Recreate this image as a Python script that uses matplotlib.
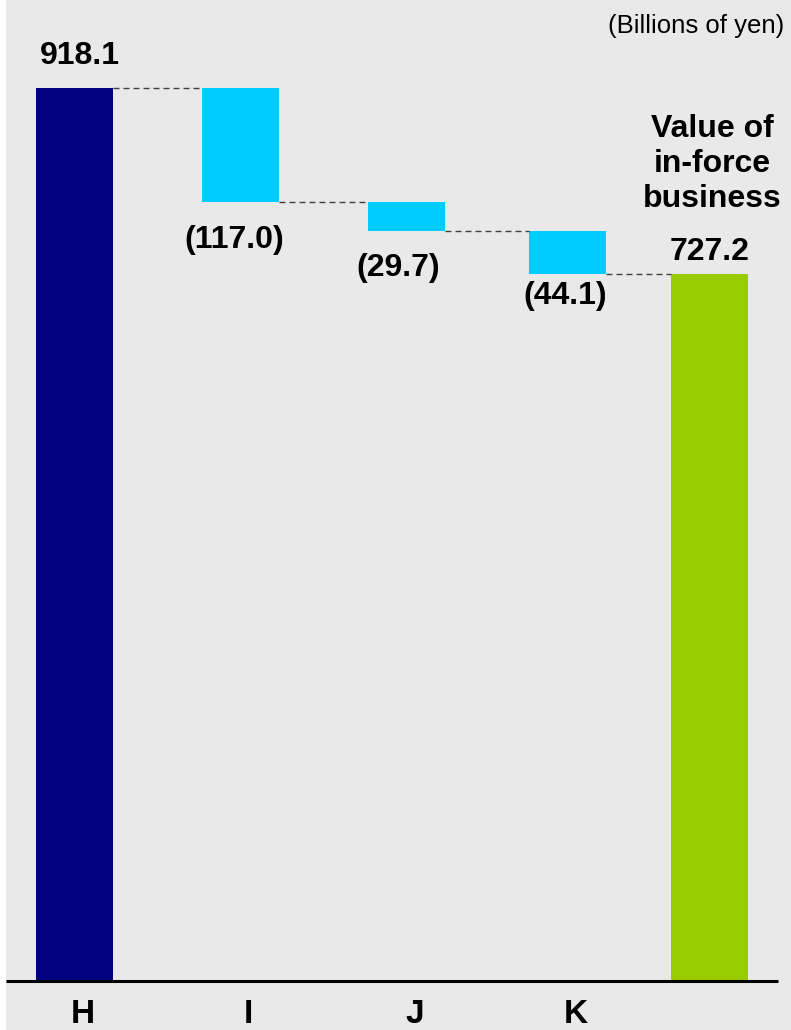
import matplotlib.pyplot as plt
from matplotlib.patches import Rectangle

# data (billions of yen)
categories = ["H", "I", "J", "K", ""]
start_value = 918.1
changes = [-117.0, -29.7, -44.1]
end_value = 727.2
change_labels = ["(117.0)", "(29.7)", "(44.1)"]
end_title = "Value of\nin-force\nbusiness"
unit_note = "(Billions of yen)"

# layout (pixel-based x axis)
centers = [74.5, 240.5, 406.5, 567.5, 709.5]
label_dx = [-6, -8, -2]
label_gap = [24, 23, 8]
bar_w = 77
navy = "#000080"
cyan = "#00ccff"
green = "#99cc00"
bg = "#e9e9e9"

plt.rcParams["font.family"] = ["Liberation Sans", "DejaVu Sans"]

fig = plt.figure(figsize=(7.91, 10.30), dpi=100)
fig.patch.set_facecolor(bg)
ax = fig.add_axes([0, 0, 1, 1])
ax.set_facecolor(bg)
ax.set_xlim(0, 791)
ax.set_ylim(-50.4, 1008.5)
ax.axis("off")

# thin white strip on the left edge
fig.patches.append(Rectangle((0, 0), 6 / 791, 1, transform=fig.transFigure,
                             facecolor="white", edgecolor="none"))

# start bar
ax.bar(centers[0], start_value, width=bar_w, color=navy)
ax.text(centers[0] + 5, start_value + 24.5, f"{start_value:.1f}", ha="center", va="baseline",
        fontsize=23, fontweight="bold")

# change bars
level = start_value
levels = [start_value]
for i, (c, lab) in enumerate(zip(changes, change_labels)):
    x = centers[i + 1]
    ax.bar(x, -c, bottom=level + c, width=bar_w, color=cyan)
    ax.text(x + label_dx[i], level + c - label_gap[i], lab, ha="center", va="top",
            fontsize=23, fontweight="bold")
    level = level + c
    levels.append(level)

# end bar
ax.bar(centers[4], end_value, width=bar_w, color=green)
ax.text(centers[4], end_value + 14, f"{end_value:.1f}", ha="center", va="baseline",
        fontsize=23, fontweight="bold")
ax.text(centers[4] + 3, end_value + 68.5, end_title, ha="center", va="baseline",
        fontsize=23, fontweight="bold", linespacing=1.22)

# dashed connectors
for i in range(4):
    ax.plot([centers[i] + bar_w / 2, centers[i + 1] - bar_w / 2], [levels[i], levels[i]],
            color="#404040", linestyle=(0, (4.3, 2.9)), linewidth=1.0)

# baseline
ax.plot([6, 778], [0, 0], color="black", linewidth=2.2, solid_capstyle="butt")

# category labels
for x, cat in zip(centers, categories):
    ax.text(x + 8, -43, cat, ha="center", va="baseline", fontsize=24, fontweight="bold")

ax.text(784, 981.8, unit_note, ha="right", va="center", fontsize=18.5)

fig.savefig("out.png", dpi=100, facecolor=bg)
